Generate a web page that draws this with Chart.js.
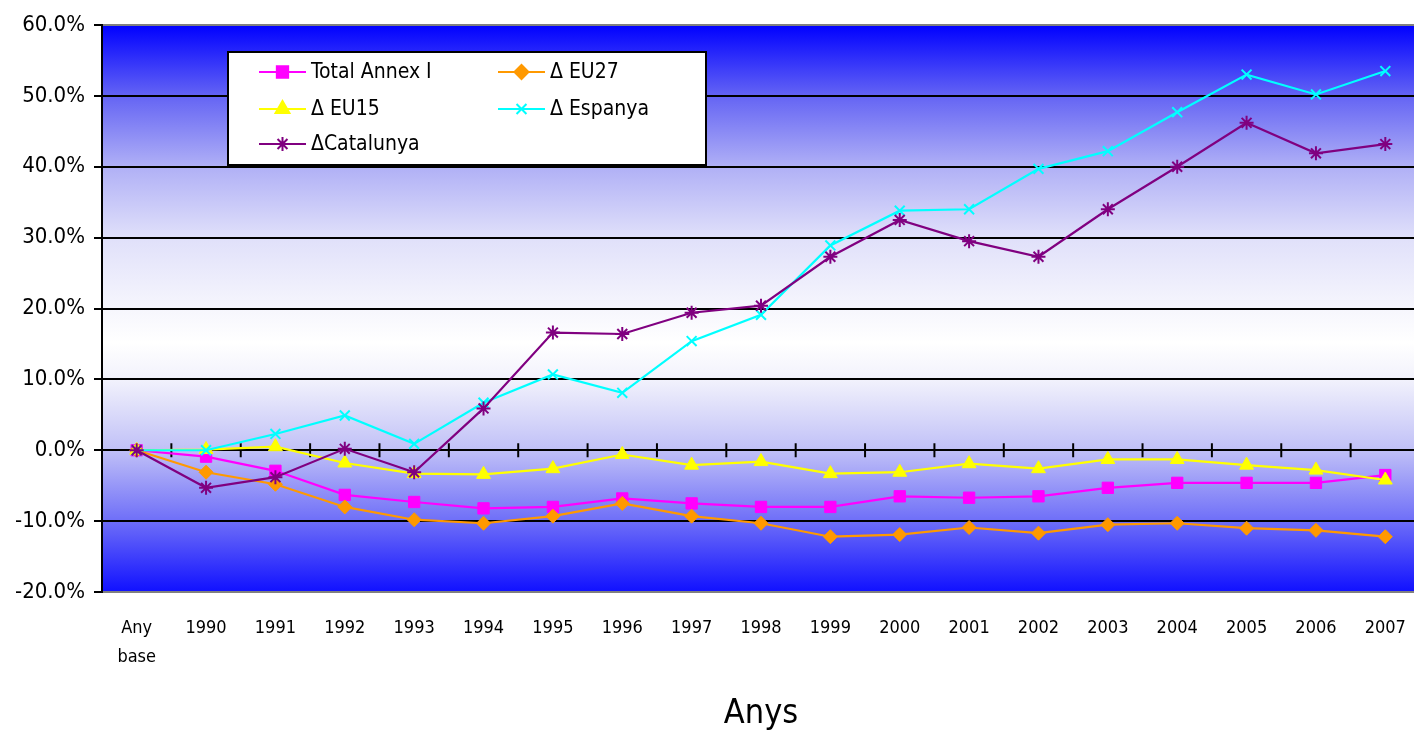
<!DOCTYPE html>
<html>
<head>
<meta charset="utf-8">
<script src="https://cdn.jsdelivr.net/npm/chart.js@4/dist/chart.umd.min.js"></script>
<style>
  html, body { margin: 0; padding: 0; background: #fff; overflow: hidden; }
  #wrap { position: relative; width: 1429px; height: 731px; }
</style>
</head>
<body>
<div id="wrap"><canvas id="emissionsChart" width="1429" height="731" style="width:1429px;height:731px"></canvas></div>
<script>
var categories = [['Any', 'base'], '1990', '1991', '1992', '1993', '1994', '1995', '1996', '1997',
    '1998', '1999', '2000', '2001', '2002', '2003', '2004', '2005', '2006', '2007'];

// variacio respecte l'any base, en %
var totalAnnex = [0, -0.9, -2.9, -6.3, -7.3, -8.2, -8.0, -6.8, -7.5, -8.0, -8.0, -6.5, -6.7, -6.5, -5.3, -4.6, -4.6, -4.6, -3.5];
var eu27 = [0, -3.1, -4.8, -8.0, -9.8, -10.3, -9.3, -7.5, -9.3, -10.3, -12.2, -11.9, -10.9, -11.7, -10.5, -10.3, -11.0, -11.3, -12.2];
var eu15 = [0, 0.1, 0.5, -1.8, -3.3, -3.4, -2.6, -0.6, -2.1, -1.6, -3.3, -3.1, -1.9, -2.6, -1.3, -1.3, -2.1, -2.8, -4.2];
var espanya = [0, 0, 2.3, 4.9, 0.9, 6.7, 10.7, 8.1, 15.4, 19.1, 28.9, 33.8, 34.0, 39.7, 42.2, 47.7, 53.0, 50.2, 53.5];
var catalunya = [0, -5.3, -3.8, 0.2, -3.1, 5.9, 16.6, 16.4, 19.4, 20.4, 27.3, 32.5, 29.5, 27.3, 34.0, 40.0, 46.2, 41.9, 43.2];

var seriesNames = ['Total Annex I', '\u0394 EU27', '\u0394 EU15', '\u0394 Espanya', '\u0394Catalunya'];
var yTicks = [-20, -10, 0, 10, 20, 30, 40, 50, 60];

var FONT = '"DejaVu Sans Condensed", "DejaVu Sans", sans-serif';

function makeSet(label, data, color, style, radius, order) {
    return {
        label: label,
        data: data,
        borderColor: color,
        backgroundColor: color,
        borderWidth: 2.2,
        pointStyle: style,
        pointRadius: radius,
        pointHoverRadius: radius,
        pointBorderWidth: (style === 'crossRot' || style === 'star') ? 2 : 1,
        pointBackgroundColor: color,
        pointBorderColor: color,
        tension: 0,
        order: order
    };
}

// fons degradat blau-blanc-blau dins l'area del grafic
var gradientBg = {
    id: 'gradientBg',
    beforeDraw: function(chart) {
        var a = chart.chartArea, ctx = chart.ctx;
        var g = ctx.createLinearGradient(0, a.top, 0, a.bottom);
        g.addColorStop(0, '#0000ff');
        g.addColorStop(0.125, '#6464f4');
        g.addColorStop(0.25, '#b0b0f6');
        g.addColorStop(0.375, '#e0e0fa');
        g.addColorStop(0.5, '#f6f6fd');
        g.addColorStop(0.56, '#ffffff');
        g.addColorStop(0.625, '#f2f2fc');
        g.addColorStop(0.75, '#c0c0f7');
        g.addColorStop(0.875, '#6e6ef8');
        g.addColorStop(1, '#1010ff');
        ctx.save();
        ctx.fillStyle = g;
        ctx.fillRect(a.left, a.top, a.right - a.left, a.bottom - a.top);
        ctx.restore();
    }
};

// marques de categoria sobre la linia del 0
var zeroTicks = {
    id: 'zeroTicks',
    beforeDatasetsDraw: function(chart) {
        var x = chart.scales.x, y = chart.scales.y, ctx = chart.ctx;
        var y0 = y.getPixelForValue(0);
        ctx.save();
        ctx.strokeStyle = '#000';
        ctx.lineWidth = 2;
        for (var i = 1; i < categories.length; i++) {
            var px = (x.getPixelForValue(i - 1) + x.getPixelForValue(i)) / 2;
            ctx.beginPath();
            ctx.moveTo(px, y0 - 7);
            ctx.lineTo(px, y0 + 7);
            ctx.stroke();
        }
        ctx.restore();
    }
};

// llegenda en caixa dins del grafic, dues columnes
var boxLegend = {
    id: 'boxLegend',
    afterDraw: function(chart) {
        var ctx = chart.ctx;
        var cols = [259, 498];
        var rows = [72, 109, 144];
        ctx.save();
        ctx.fillStyle = '#fff';
        ctx.fillRect(228, 52, 478, 113);
        ctx.strokeStyle = '#000';
        ctx.lineWidth = 2;
        ctx.strokeRect(228, 52, 478, 113);
        chart.data.datasets.forEach(function(ds, i) {
            var lx = cols[i % 2], ly = rows[Math.floor(i / 2)];
            ctx.strokeStyle = ds.borderColor;
            ctx.lineWidth = 2;
            ctx.beginPath();
            ctx.moveTo(lx, ly);
            ctx.lineTo(lx + 47, ly);
            ctx.stroke();
            ctx.fillStyle = ds.backgroundColor;
            if (Chart.helpers && Chart.helpers.drawPoint) {
                Chart.helpers.drawPoint(ctx, {
                    pointStyle: ds.pointStyle,
                    radius: ds.pointRadius,
                    borderWidth: ds.pointBorderWidth,
                    rotation: 0
                }, lx + 23.5, ly);
            }
            ctx.fillStyle = '#000';
            ctx.font = '21px ' + FONT;
            ctx.textAlign = 'left';
            ctx.textBaseline = 'middle';
            ctx.fillText(ds.label, lx + 52, ly + 1);
        });
        ctx.restore();
    }
};

var ctx = document.getElementById('emissionsChart').getContext('2d');
var emissionsChart = new Chart(ctx, {
    type: 'line',
    data: {
        labels: categories,
        datasets: [
            makeSet(seriesNames[0], totalAnnex, '#ff00ff', 'rect', 8, 5),
            makeSet(seriesNames[1], eu27, '#ff9900', 'rectRot', 7, 4),
            makeSet(seriesNames[2], eu15, '#ffff00', 'triangle', 8, 3),
            makeSet(seriesNames[3], espanya, '#00ffff', 'crossRot', 7, 2),
            makeSet(seriesNames[4], catalunya, '#800080', 'star', 7, 1)
        ]
    },
    options: {
        responsive: false,
        animation: false,
        layout: { padding: { top: 25, left: 0, right: 0, bottom: 0 } },
        plugins: {
            legend: { display: false },
            tooltip: { enabled: false }
        },
        scales: {
            x: {
                offset: true,
                grid: { display: false, drawTicks: false },
                border: { display: false },
                ticks: {
                    color: '#000',
                    autoSkip: false,
                    maxRotation: 0,
                    padding: 22,
                    font: { family: FONT, size: 18, lineHeight: 1.6 }
                },
                title: {
                    display: true,
                    text: 'Anys',
                    color: '#000',
                    font: { family: FONT, size: 34, lineHeight: 1 },
                    padding: { top: 0, bottom: 0 }
                },
                afterFit: function(scale) { scale.height = 139; }
            },
            y: {
                min: -20,
                max: 60,
                afterBuildTicks: function(scale) {
                    scale.ticks = yTicks.map(function(v) { return { value: v }; });
                },
                grid: {
                    color: function(c) {
                        return (c.tick && (c.tick.value === 60 || c.tick.value === -20)) ? '#808080' : '#000';
                    },
                    lineWidth: 2,
                    tickLength: 8,
                    tickColor: '#000',
                    tickWidth: 2
                },
                border: { display: true, color: '#000', width: 2 },
                ticks: {
                    color: '#000',
                    padding: 9,
                    font: { family: FONT, size: 22 },
                    callback: function(v) { return v.toFixed(1) + '%'; }
                },
                afterFit: function(scale) { scale.width = 102; }
            }
        }
    },
    plugins: [gradientBg, zeroTicks, boxLegend]
});
</script>
</body>
</html>
